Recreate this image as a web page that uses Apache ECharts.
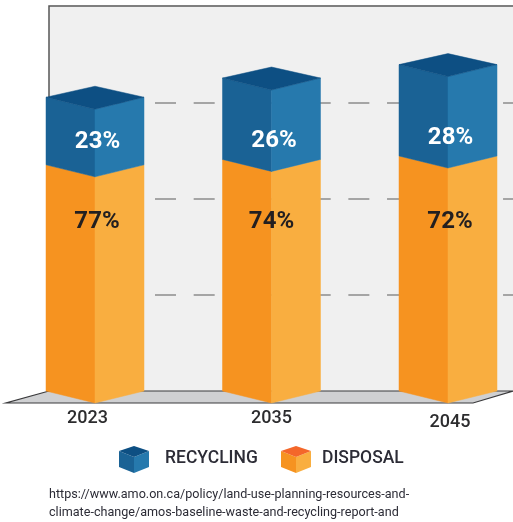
<!DOCTYPE html>
<html>
<head>
<meta charset="utf-8">
<style>html,body{margin:0;padding:0;background:#fff}#c{width:513px;height:522px}</style>
<script src="https://cdn.jsdelivr.net/npm/echarts@6/dist/echarts.min.js"></script>
</head>
<body>
<div id="c"></div>
<script>
const categories = ['2023', '2035', '2045'];
const recyclingShare = [23, 26, 28];
const disposalShare = [77, 74, 72];
const barTotals = [3.06, 3.26, 3.40];
const sourceLines = [
  'https://www.amo.on.ca/policy/land-use-planning-resources-and-',
  'climate-change/amos-baseline-waste-and-recycling-report-and'
];

const colors = {
  recycling: { left: '#1a6295', right: '#2679ad', top: '#0d4f83' },
  disposal: { left: '#f69320', right: '#f9ae40', top: '#f4672a' }
};
const halfW = 49, depth = 12;
const recyclingLabelNudge = [[2.5, -23], [2.5, -18], [2.5, -18]];
const disposalLabelNudge = [[2, 57], [0, 63], [2, 66]];
const font = 'Roboto';

const rows = categories.map((c, i) => {
  const split = barTotals[i] * disposalShare[i] / 100;
  return { c, split, total: barTotals[i] };
});

function poly(points, fill) {
  return { type: 'polygon', shape: { points }, style: { fill, stroke: fill, lineWidth: 0.5 }, silent: true };
}

function renderBar(kind) {
  return function (params, api) {
    const i = params.dataIndex;
    const base = api.coord([api.value(0), api.value(1)]);
    const tip = api.coord([api.value(0), api.value(2)]);
    const x = base[0], yb = base[1], yt = tip[1];
    const col = colors[kind];
    const L = x - halfW, R = x + halfW;
    const kids = [
      poly([[L, yt], [x, yt + depth], [x, yb + depth], [L, yb]], col.left),
      poly([[R, yt], [x, yt + depth], [x, yb + depth], [R, yb]], col.right)
    ];
    if (kind === 'recycling') {
      kids.push(poly([[L, yt], [x, yt - 11], [R, yt], [x, yt + depth]], col.top));
    }
    const nudge = kind === 'recycling' ? recyclingLabelNudge[i] : disposalLabelNudge[i];
    const anchorY = kind === 'recycling' ? yb : yt;
    kids.push({
      type: 'text', silent: true,
      style: {
        x: x + nudge[0], y: anchorY + nudge[1],
        text: api.value(3) + '%',
        fill: kind === 'recycling' ? '#ffffff' : '#231f20',
        font: '700 24px ' + font, align: 'center', verticalAlign: 'middle'
      }
    });
    return { type: 'group', children: kids };
  };
}

function cube(xL, col) {
  const w = 15, yTop = 451, yFrontTop = 457, yB = 467, yFrontB = 473, apex = 446;
  const xC = xL + w, xR = xL + 2 * w;
  return [
    { type: 'polygon', z: 1, shape: { points: [[xL, yTop], [xC, yFrontTop], [xC, yFrontB], [xL, yB]] }, style: { fill: col.left } },
    { type: 'polygon', z: 1, shape: { points: [[xR, yTop], [xC, yFrontTop], [xC, yFrontB], [xR, yB]] }, style: { fill: col.right } },
    { type: 'polygon', z: 1, shape: { points: [[xL, yTop], [xC, apex], [xR, yTop], [xC, yFrontTop]] }, style: { fill: col.top } }
  ];
}

function legendText(x, text) {
  return { type: 'text', z: 1, x, y: 458, scaleX: 0.92, style: { x: 0, y: 0, text, fill: '#2c2c36', font: '500 19px ' + font, verticalAlign: 'middle' } };
}

const axisFont = { fontFamily: font, fontSize: 18, fontWeight: 500, color: '#2c2c2e' };
const chart = echarts.init(document.getElementById('c'), null, { renderer: 'canvas' });
chart.setOption({
  animation: false,
  grid: [
    { left: 49, right: 0, top: 7, bottom: 131, show: true, backgroundColor: '#f0f0f0', borderWidth: 0 },
    { left: 95, right: 65, top: 7, bottom: 131 }
  ],
  xAxis: [
    { gridIndex: 0, type: 'value', min: 0, max: 1, show: false },
    {
      gridIndex: 1, type: 'category', data: categories, boundaryGap: false,
      axisLine: { show: false }, axisTick: { show: false },
      axisLabel: {
        margin: 18, interval: 0, ...axisFont,
        formatter: (v, i) => '{s' + i + '|' + v + '}',
        rich: {
          s0: { padding: [0, 15, 0, 0], ...axisFont },
          s1: { padding: [0, 0, 0, 0], ...axisFont },
          s2: { padding: [4, 0, 0, 4], ...axisFont }
        }
      }
    }
  ],
  yAxis: [
    {
      gridIndex: 0, type: 'value', min: 0, max: 4, interval: 1,
      axisLine: { show: false }, axisTick: { show: false }, axisLabel: { show: false },
      splitLine: { show: true, showMinLine: false, showMaxLine: false, lineStyle: { color: '#8c8c8c', width: 1.5, type: [21, 17.67], dashOffset: 10 } }
    },
    { gridIndex: 1, type: 'value', min: 0, max: 4, interval: 1, show: false, splitLine: { show: false } }
  ],
  series: [
    {
      name: 'DISPOSAL', type: 'custom', xAxisIndex: 1, yAxisIndex: 1, z: 10, clip: false,
      renderItem: renderBar('disposal'),
      encode: { x: 0, y: 2 },
      data: rows.map((r, i) => [i, 0, r.split, disposalShare[i]])
    },
    {
      name: 'RECYCLING', type: 'custom', xAxisIndex: 1, yAxisIndex: 1, z: 11, clip: false,
      renderItem: renderBar('recycling'),
      encode: { x: 0, y: 2 },
      data: rows.map((r, i) => [i, r.split, r.total, recyclingShare[i]])
    }
  ],
  graphic: {
    elements: [
      { type: 'polygon', z: 1, shape: { points: [[6, 403], [473, 403], [513, 391], [49, 391]] }, style: { fill: '#cfd0d2', stroke: '#3a3a3c', lineWidth: 1.2 } },
      { type: 'polyline', z: 1, shape: { points: [[49, 97], [49, 6], [513, 6]] }, style: { fill: null, stroke: '#555555', lineWidth: 1.5 } },
      ...cube(119, colors.recycling),
      ...cube(281, colors.disposal),
      legendText(165, 'RECYCLING'),
      legendText(322, 'DISPOSAL'),
      { type: 'text', z: 1, style: { x: 49, y: 495, text: sourceLines[0], fill: '#2c2c36', font: '400 12.6px ' + font, verticalAlign: 'middle' } },
      { type: 'text', z: 1, style: { x: 49, y: 513, text: sourceLines[1], fill: '#2c2c36', font: '400 12.6px ' + font, verticalAlign: 'middle' } }
    ]
  }
});
</script>
</body>
</html>
